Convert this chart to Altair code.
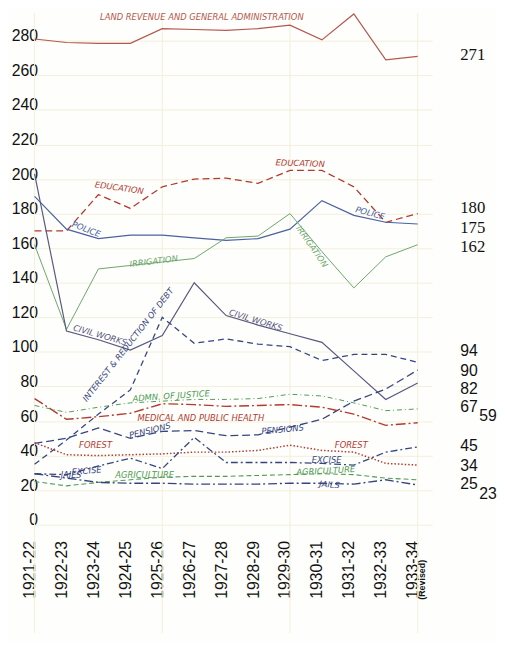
import json
import altair as alt
import pandas as pd

years = ["1921-22", "1922-23", "1923-24", "1924-25", "1925-26", "1926-27", "1927-28",
         "1928-29", "1929-30", "1930-31", "1931-32", "1932-33", "1933-34"]
idx = list(range(len(years)))

land_revenue = [281, 279, 278.5, 278.5, 287, 286.5, 286, 287, 289, 280.5, 295.5, 269, 271]
education = [170, 170, 191, 183, 195.5, 200, 200.5, 197.5, 205, 205, 195.5, 175, 180]
police = [190, 171, 165.5, 167.5, 167.5, 166, 164.5, 165.5, 171, 187.5, 179, 175, 174]
irrigation = [162, 113, 148, 150, 152, 154, 166, 167, 180, 158, 137, 155, 162]
civil_works = [203, 112, 107, 101, 109.5, 140, 121, 115.5, 110.5, 105.5, 89, 72.5, 82]
interest_debt = [35, 49, 64, 78, 120, 105, 107.5, 104.5, 103, 95, 98.5, 98.5, 94]
pensions = [47, 50, 56, 50, 54, 54.5, 51.5, 52, 56.5, 61, 71.5, 78.5, 89.5]
medical = [73, 61, 62.5, 64.5, 70, 69.5, 68.5, 69, 69.5, 68, 64, 57.5, 59]
justice = [69, 65, 68, 70.5, 71.5, 72.5, 72.5, 73, 75.5, 74.5, 70.5, 66, 67]
forest = [47.5, 40.5, 40, 40.5, 41, 42, 42, 43, 46, 43, 42, 35.5, 34.5]
excise = [29.5, 29, 34, 38.5, 32.5, 50.5, 36, 36, 36, 35.5, 34.5, 42, 45]
agriculture = [25, 22.5, 24.5, 26, 27.5, 28, 28, 28.5, 29, 29.5, 29, 27, 26]
jails = [29.5, 27, 24.5, 24, 24, 23.5, 23.5, 23.5, 24, 24, 23.5, 26, 23]

RED = "#b23a2e"
BROWN = "#b5584c"
BLUE = "#4a62a0"
NAVY = "#36457f"
PURPLE = "#58577f"
GREEN = "#6aa56a"
DGREEN = "#4f9a52"

series = [
    ("Land Revenue", land_revenue, BROWN, None, 1.2),
    ("Education", education, RED, [7, 4], 1.3),
    ("Police", police, BLUE, None, 1.2),
    ("Irrigation", irrigation, GREEN, None, 1.0),
    ("Civil Works", civil_works, PURPLE, None, 1.2),
    ("Interest", interest_debt, NAVY, [6, 4], 1.3),
    ("Pensions", pensions, NAVY, [8, 4], 1.3),
    ("Medical", medical, RED, [10, 3, 2, 3], 1.4),
    ("Justice", justice, DGREEN, [5, 3, 1, 3], 1.0),
    ("Forest", forest, RED, [1.5, 2], 1.5),
    ("Excise", excise, NAVY, [7, 3, 2, 3], 1.3),
    ("Agriculture", agriculture, DGREEN, [5, 3], 1.1),
    ("Jails", jails, NAVY, [9, 3, 2, 3], 1.4),
]

ann_text = ["LAND REVENUE AND GENERAL ADMINISTRATION", "EDUCATION", "EDUCATION",
            "POLICE", "POLICE", "IRRIGATION", "IRRIGATION", "CIVIL WORKS", "CIVIL WORKS",
            "INTEREST & REDUCTION OF DEBT", "ADMN. OF JUSTICE", "MEDICAL AND PUBLIC HEALTH",
            "PENSIONS", "PENSIONS", "FOREST", "FOREST", "EXCISE", "EXCISE", "JAILS", "JAILS",
            "AGRICULTURE", "AGRICULTURE"]
ann_i = [5.24, 2.65, 8.32, 1.62, 10.51, 3.73, 8.69, 2.05, 6.93, 2.93, 4.28, 5.21,
         3.61, 7.77, 1.91, 9.92, 1.63, 9.15, 1.14, 9.24, 3.45, 9.12]
ann_v = [293.7, 195, 209.2, 171, 180.4, 152.5, 161, 109.8, 118.4, 104.2, 74.6, 62,
         54.6, 55.2, 46.1, 46.1, 31.3, 37.6, 28.5, 23.3, 28.5, 31.3]
ann_angle = [0, 8, 2, 21, 15, 353, 55, 16, 17, 308, 356, 0, 346, 355, 0, 0, 355, 0, 0, 5, 0, 357]
ann_color = [BROWN, RED, RED, BLUE, BLUE, GREEN, GREEN, PURPLE, PURPLE, NAVY, DGREEN, RED,
             NAVY, NAVY, RED, RED, NAVY, NAVY, NAVY, NAVY, DGREEN, DGREEN]

end_labels = ["271", "180", "175", "162", "94", "90", "82", "67", "59", "45", "34", "25", "23"]
end_anchor = [272, 183.3, 171.9, 160.5, 100.2, 88.8, 78.5, 68.3, 62.6, 45.5, 34.1, 23.3, 17.6]
end_col = [13.33, 13.33, 13.33, 13.33, 13.33, 13.33, 13.33, 13.33, 13.93, 13.33, 13.33, 13.33, 13.93]
end_serif = [True, True, True, True, False, False, False, False, False, False, False, False, False]

grid_x = [0, 4, 8, 12]

xs = alt.Scale(domain=[0, 12.45], nice=False, zero=False)
ys = alt.Scale(domain=[0, 296], nice=False, zero=True)

label_expr = "(" + json.dumps(years) + ")[datum.value]"

x_axis = alt.Axis(values=idx, labelExpr=label_expr, labelAngle=270, labelFontSize=16,
                  labelFont="Liberation Sans", labelColor="#111111", labelPadding=16,
                  labelOffset=-5, ticks=False, domain=False, grid=False, title=None)
y_axis = alt.Axis(values=list(range(0, 281, 20)), labelFontSize=16, labelFont="Liberation Sans",
                  labelColor="#111111", labelPadding=-3, labelOffset=-5, ticks=False,
                  domain=False, grid=True, gridColor="#f3efda", gridWidth=1, title=None)


def X(field):
    return alt.X(field, scale=xs, axis=x_axis)


def Y(field):
    return alt.Y(field, scale=ys, axis=y_axis)


layers = []
vgrid = alt.Chart(pd.DataFrame({"g": grid_x})).mark_rule(color="#f3efda", strokeWidth=1).encode(
    x=X("g:Q"),
    y=alt.value(0), y2=alt.value(630),
)
layers.append(vgrid)

for name, vals, color, dash, w in series:
    df = pd.DataFrame({"i": idx, "v": vals, "s": name})
    kw = dict(color=color, strokeWidth=w)
    if dash:
        kw["strokeDash"] = dash
    layers.append(alt.Chart(df).mark_line(**kw).encode(x=X("i:Q"), y=Y("v:Q")))

ann_df = pd.DataFrame({"t": ann_text, "i": ann_i, "v": ann_v, "a": ann_angle, "c": ann_color})
ann = alt.Chart(ann_df).mark_text(font="DejaVu Sans", fontStyle="italic", fontSize=8.5,
                                  align="center", baseline="middle").encode(
    x=X("i:Q"), y=Y("v:Q"),
    text="t:N",
    angle=alt.Angle("a:Q", scale=None),
    color=alt.Color("c:N", scale=None),
)
layers.append(ann)

end_df = pd.DataFrame({"t": end_labels, "i": end_col, "v": end_anchor, "serif": end_serif})
end_serif_layer = alt.Chart(end_df[end_df["serif"]]).mark_text(
    font="Liberation Serif", fontSize=17, align="left", baseline="middle", color="#111111").encode(
    x=X("i:Q"), y=Y("v:Q"), text="t:N")
end_sans_layer = alt.Chart(end_df[~end_df["serif"]]).mark_text(
    font="Liberation Sans", fontSize=16, align="left", baseline="middle", color="#111111").encode(
    x=X("i:Q"), y=Y("v:Q"), text="t:N")
layers += [end_serif_layer, end_sans_layer]

revised = alt.Chart(pd.DataFrame({"t": ["(Revised)"], "i": [12.15]})).mark_text(
    font="Liberation Sans", fontSize=9, fontWeight="bold", angle=270, align="center",
    baseline="middle", color="#111111").encode(
    x=X("i:Q"), y=alt.value(576), text="t:N")
layers.append(revised)

chart = alt.layer(*layers).properties(
    width=404, height=520,
    padding={"left": 27, "top": 0, "right": 66, "bottom": 114},
    autosize="none",
    background="#fefefc",
).configure_view(stroke=None)

chart.save("out.html", embed_options={"renderer": "svg", "actions": False})
